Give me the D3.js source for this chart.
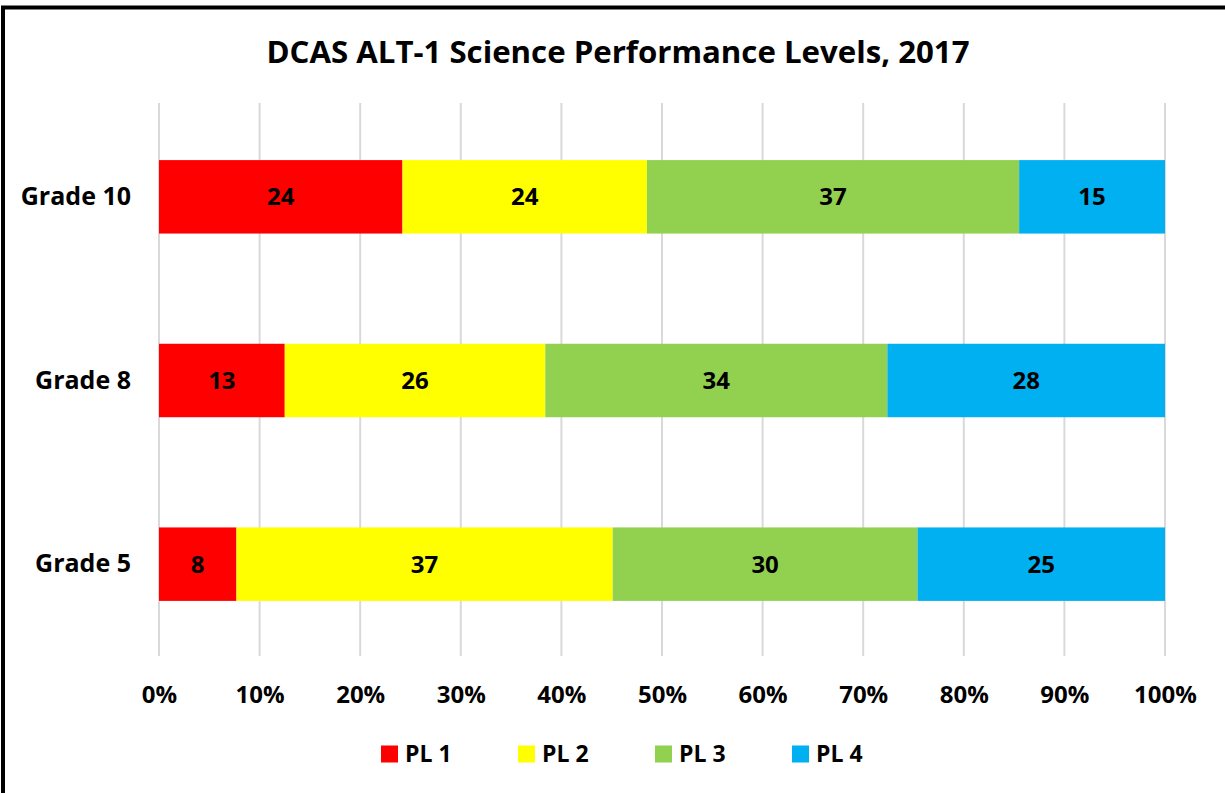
<!DOCTYPE html>
<html>
<head>
<meta charset="utf-8">
<script src="https://cdn.jsdelivr.net/npm/d3@7"></script>
<style>
    body { margin: 0; background: #fff; }
    svg text { font-family: "Open Sans", "Noto Sans", sans-serif; font-weight: bold; fill: #000; }
</style>
</head>
<body>
<div id="chart"></div>
<script>
'use strict';

// grades, top to bottom
const grades = ['Grade 10', 'Grade 8', 'Grade 5'];

// performance level names and colours
const levels = ['PL 1', 'PL 2', 'PL 3', 'PL 4'];
const levelColors = ['#ff0000', '#ffff00', '#92d050', '#00b0f0'];

// percent of students per level, one array per grade
const pl1 = [24.2, 12.5, 7.7];
const pl2 = [24.3, 25.9, 37.4];
const pl3 = [37.0, 34.0, 30.3];
const pl4 = [14.5, 27.6, 24.6];

const xTicks = [0, 10, 20, 30, 40, 50, 60, 70, 80, 90, 100];

const title = 'DCAS ALT-1 Science Performance Levels, 2017';

// build rows for d3.stack
const rows = grades.map((g, i) => ({
    grade: g,
    'PL 1': pl1[i],
    'PL 2': pl2[i],
    'PL 3': pl3[i],
    'PL 4': pl4[i]
}));

const w = 1225;
const h = 793;
const margin = {top: 105, right: 60, bottom: 137, left: 159};
const centerX = 618;

const svg = d3.select('#chart')
    .append('svg')
    .attr('width', w)
    .attr('height', h);

// outer frame (right and bottom run off the picture)
svg.append('rect')
    .attr('x', 3)
    .attr('y', 7.5)
    .attr('width', w + 20)
    .attr('height', h + 20)
    .attr('fill', 'none')
    .attr('stroke', '#000')
    .attr('stroke-width', 4);

// title
svg.append('text')
    .attr('x', centerX)
    .attr('y', 63)
    .attr('text-anchor', 'middle')
    .attr('font-size', 30)
    .attr('textLength', 703)
    .attr('lengthAdjust', 'spacingAndGlyphs')
    .text(title);

const x = d3.scaleLinear()
    .domain([0, 100])
    .range([margin.left, w - margin.right]);

const y = d3.scaleBand()
    .domain(grades)
    .range([margin.top, h - margin.bottom])
    .paddingInner(0.6)
    .paddingOuter(0.3);

// vertical gridlines
svg.append('g')
    .selectAll('line')
    .data(xTicks)
    .join('line')
    .attr('x1', d => x(d))
    .attr('x2', d => x(d))
    .attr('y1', margin.top - 2)
    .attr('y2', h - margin.bottom)
    .attr('stroke', '#d9d9d9')
    .attr('stroke-width', 2);

// x axis labels
const xAxis = d3.axisBottom(x)
    .tickValues(xTicks)
    .tickFormat(d => d + '%')
    .tickSize(0)
    .tickPadding(0);

const xAxisG = svg.append('g')
    .attr('transform', `translate(0, ${h - margin.bottom + 30})`)
    .call(xAxis);
xAxisG.select('.domain').remove();
xAxisG.selectAll('text')
    .attr('font-size', 24)
    .attr('font-family', null);

// y axis labels
const yAxis = d3.axisLeft(y)
    .tickSize(0)
    .tickPadding(28);

const yAxisG = svg.append('g')
    .attr('transform', `translate(${margin.left}, 0)`)
    .call(yAxis);
yAxisG.select('.domain').remove();
yAxisG.selectAll('text')
    .attr('font-size', 25)
    .attr('font-family', null);

// stacked bars
const stack = d3.stack().keys(levels);
const series = stack(rows);

const layerG = svg.append('g')
    .selectAll('g')
    .data(series)
    .join('g')
    .attr('fill', (d, i) => levelColors[i]);

layerG.selectAll('rect')
    .data(d => d)
    .join('rect')
    .attr('x', d => x(d[0]))
    .attr('y', d => y(d.data.grade))
    .attr('width', d => x(d[1]) - x(d[0]))
    .attr('height', y.bandwidth());

// value labels
layerG.selectAll('text')
    .data(d => d)
    .join('text')
    .attr('x', d => (x(d[0]) + x(d[1])) / 2)
    .attr('y', d => y(d.data.grade) + y.bandwidth() / 2)
    .attr('dy', '0.35em')
    .attr('text-anchor', 'middle')
    .attr('font-size', 24)
    .text(d => Math.round(d[1] - d[0]));

// legend
const legendStep = 137;
const legendW = legendStep * (levels.length - 1) + 71;
const legendG = svg.append('g')
    .attr('transform', `translate(${centerX - legendW / 2 + 4}, 754)`);

const item = legendG.selectAll('g')
    .data(levels)
    .join('g')
    .attr('transform', (d, i) => `translate(${i * legendStep}, 0)`);

item.append('rect')
    .attr('x', 0)
    .attr('y', -8.5)
    .attr('width', 17)
    .attr('height', 17)
    .attr('fill', (d, i) => levelColors[i]);

item.append('text')
    .attr('x', 24)
    .attr('dy', '0.35em')
    .attr('font-size', 23)
    .text(d => d);
</script>
</body>
</html>
